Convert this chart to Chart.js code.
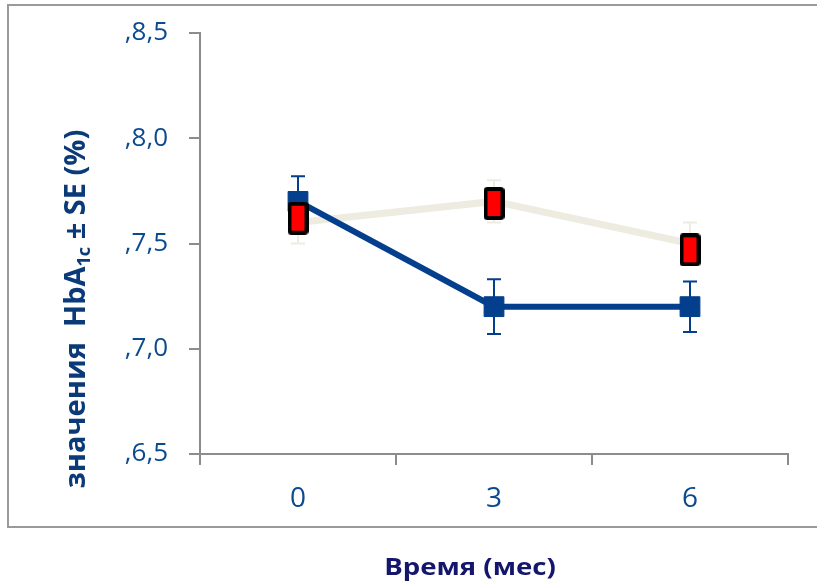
<!DOCTYPE html>
<html>
<head>
<meta charset="utf-8">
<script src="https://cdn.jsdelivr.net/npm/chart.js@4.4.1/dist/chart.umd.min.js"></script>
<style>
  html, body { margin: 0; padding: 0; background: #fff; }
  #wrap { width: 817px; height: 587px; position: relative; }
</style>
</head>
<body>
<div id="wrap"><canvas id="hba1c"></canvas></div>
<script>
// months
const months = ["0", "3", "6"];
const yTickLabels = [",6,5", ",7,0", ",7,5", ",8,0", ",8,5"];
const yTickValues = [6.5, 7.0, 7.5, 8.0, 8.5];

// blue group (mean, SE)
const blueMean = [7.7, 7.2, 7.2];
const blueSE = [0.12, 0.13, 0.12];

// light group (mean, SE)
const beigeMean = [7.6, 7.7, 7.5];
const beigeSE = [0.1, 0.1, 0.1];

// red marker overlay
const redMarks = [7.62, 7.69, 7.47];

const BLUE = '#033f8c';
const BEIGE = '#eeebe0';
const TICK = '#0b4a8f';
const FONT = "'Open Sans', 'DejaVu Sans', sans-serif";

// red tall box used as point style
function redBox() {
    const c = document.createElement('canvas');
    c.width = 21; c.height = 33;
    const g = c.getContext('2d');
    g.fillStyle = '#000';
    g.beginPath(); g.roundRect(0, 0, 21, 33, 4); g.fill();
    g.fillStyle = '#ff0000';
    g.fillRect(4, 4, 13, 25);
    return c;
}

const errorBars = {
    id: 'errorBars',
    beforeDatasetsDraw(chart) {
        const ctx = chart.ctx;
        const y = chart.scales.y;
        chart.data.datasets.forEach((ds, i) => {
            if (!ds.se) return;
            const meta = chart.getDatasetMeta(i);
            ctx.save();
            ctx.strokeStyle = ds.borderColor;
            ctx.lineWidth = 2;
            meta.data.forEach((pt, j) => {
                const top = y.getPixelForValue(ds.data[j] + ds.se[j]);
                const bot = y.getPixelForValue(ds.data[j] - ds.se[j]);
                ctx.beginPath();
                ctx.moveTo(pt.x, top); ctx.lineTo(pt.x, bot);
                ctx.moveTo(pt.x - 7, top); ctx.lineTo(pt.x + 7, top);
                ctx.moveTo(pt.x - 7, bot); ctx.lineTo(pt.x + 7, bot);
                ctx.stroke();
            });
            ctx.restore();
        });
    }
};

const decor = {
    id: 'decor',
    beforeDraw(chart) {
        const ctx = chart.ctx;
        ctx.save();
        ctx.strokeStyle = '#9a9a9a';
        ctx.lineWidth = 2;
        ctx.strokeRect(8, 5, 840, 522);
        ctx.restore();
    },
    afterDraw(chart) {
        const ctx = chart.ctx;
        ctx.save();
        // x title (slightly widened like the original)
        ctx.fillStyle = '#13166b';
        ctx.font = "bold 23px " + FONT;
        ctx.textAlign = 'center';
        ctx.textBaseline = 'middle';
        ctx.translate(470, 568);
        ctx.scale(1.2, 1);
        ctx.fillText('Время (мес)', 0, 0);
        ctx.restore();

        // y title with subscript
        ctx.save();
        ctx.translate(77, 309);
        ctx.rotate(-Math.PI / 2);
        ctx.fillStyle = '#0b3a78';
        ctx.textBaseline = 'middle';
        const big = "bold 29px " + FONT, small = "bold 18px " + FONT;
        const parts = [['значения  HbA', big, 0], ['1c', small, 8], [' ± SE (%)', big, 0]];
        let w = 0;
        parts.forEach(p => { ctx.font = p[1]; w += ctx.measureText(p[0]).width; });
        let x = -w / 2;
        ctx.textAlign = 'left';
        parts.forEach(p => {
            ctx.font = p[1];
            ctx.fillText(p[0], x, p[2]);
            x += ctx.measureText(p[0]).width;
        });
        ctx.restore();
    }
};

new Chart(document.getElementById('hba1c'), {
    type: 'line',
    data: {
        labels: months,
        datasets: [
            {
                label: 'marks',
                data: redMarks,
                showLine: false,
                pointStyle: redBox(),
                borderColor: '#000',
                backgroundColor: '#ff0000'
            },
            {
                label: 'blue',
                data: blueMean,
                se: blueSE,
                borderColor: BLUE,
                backgroundColor: BLUE,
                borderWidth: 6,
                pointStyle: 'rect',
                pointRadius: 14,
                pointBorderWidth: 1
            },
            {
                label: 'beige',
                data: beigeMean,
                se: beigeSE,
                borderColor: BEIGE,
                backgroundColor: BEIGE,
                borderWidth: 7,
                pointRadius: 0
            }
        ]
    },
    options: {
        responsive: true,
        maintainAspectRatio: false,
        animation: false,
        layout: { padding: { top: 33, right: 29, left: 0, bottom: 0 } },
        plugins: { legend: { display: false }, tooltip: { enabled: false } },
        scales: {
            x: {
                offset: true,
                grid: { offset: true, drawOnChartArea: false, tickLength: 11, color: '#8c8c8c', lineWidth: 2 },
                border: { color: '#8c8c8c', width: 2 },
                ticks: { color: TICK, font: { family: FONT, size: 28 }, padding: 17 },
                afterFit(s) { s.height = 133; }
            },
            y: {
                min: 6.5,
                max: 8.5,
                afterBuildTicks(s) { s.ticks = yTickValues.map(v => ({ value: v })); },
                grid: { drawOnChartArea: false, tickLength: 11, color: '#8c8c8c', lineWidth: 2 },
                border: { color: '#8c8c8c', width: 2 },
                ticks: {
                    color: TICK,
                    font: { family: FONT, size: 26 },
                    padding: 21,
                    callback: (v, i) => yTickLabels[i]
                },
                afterFit(s) { s.width = 200; s.paddingTop = 0; s.paddingBottom = 0; }
            }
        }
    },
    plugins: [errorBars, decor]
});
</script>
</body>
</html>
